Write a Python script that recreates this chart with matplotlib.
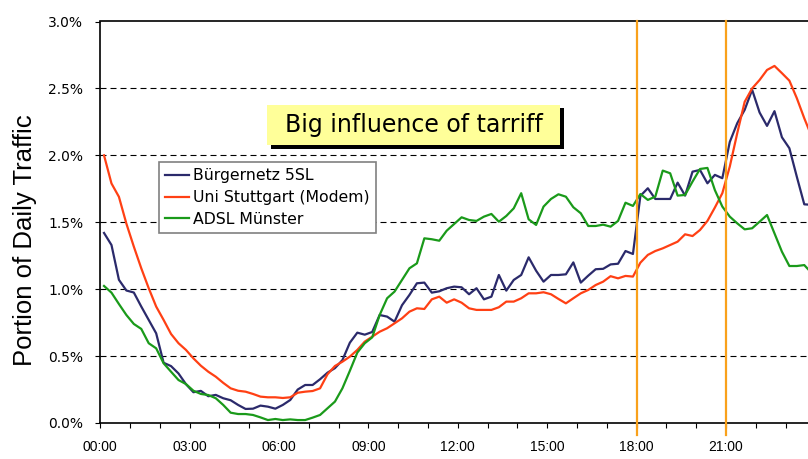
import numpy as np
import matplotlib.pyplot as plt
from matplotlib.patches import Rectangle
from matplotlib.ticker import MultipleLocator, FuncFormatter

# share of daily traffic (%) per 15-minute slot, 00:00 .. 23:45
buergernetz = [
    1.42, 1.33, 1.07, 0.99, 0.975, 0.87, 0.77, 0.67, 0.45, 0.425, 0.37, 0.29,
    0.23, 0.24, 0.20, 0.21, 0.185, 0.17, 0.135, 0.105, 0.107, 0.13, 0.122, 0.107,
    0.135, 0.172, 0.25, 0.284, 0.284, 0.327, 0.376, 0.41, 0.47, 0.60, 0.675, 0.66,
    0.68, 0.807, 0.795, 0.757, 0.88, 0.957, 1.044, 1.049, 0.974, 0.984, 1.007, 1.019,
    1.014, 0.962, 1.007, 0.924, 0.944, 1.106, 0.989, 1.069, 1.106, 1.238, 1.138, 1.056,
    1.106, 1.106, 1.111, 1.20, 1.049, 1.101, 1.149, 1.152, 1.185, 1.19, 1.285, 1.263,
    1.697, 1.754, 1.674, 1.674, 1.674, 1.796, 1.699, 1.878, 1.891, 1.791, 1.854, 1.829,
    2.10, 2.24, 2.34, 2.49, 2.32, 2.22, 2.33, 2.135, 2.053, 1.84, 1.634, 1.63,
]
stuttgart = [
    2.00, 1.79, 1.69, 1.49, 1.318, 1.156, 1.007, 0.87, 0.77, 0.665, 0.596, 0.546,
    0.483, 0.428, 0.383, 0.346, 0.30, 0.259, 0.241, 0.234, 0.217, 0.197, 0.192, 0.192,
    0.187, 0.192, 0.226, 0.234, 0.239, 0.259, 0.364, 0.426, 0.458, 0.496, 0.546, 0.608,
    0.645, 0.682, 0.708, 0.745, 0.782, 0.832, 0.857, 0.852, 0.924, 0.944, 0.899, 0.924,
    0.899, 0.857, 0.845, 0.845, 0.845, 0.865, 0.907, 0.907, 0.932, 0.969, 0.969, 0.977,
    0.962, 0.927, 0.894, 0.932, 0.969, 0.994, 1.031, 1.056, 1.097, 1.081, 1.099, 1.094,
    1.198, 1.256, 1.285, 1.305, 1.33, 1.355, 1.41, 1.397, 1.442, 1.51, 1.61, 1.717,
    1.916, 2.165, 2.40, 2.50, 2.563, 2.638, 2.668, 2.614, 2.558, 2.427, 2.277, 2.14,
]
adsl = [
    1.024, 0.974, 0.889, 0.807, 0.74, 0.703, 0.596, 0.558, 0.446, 0.383, 0.321, 0.291,
    0.241, 0.217, 0.209, 0.185, 0.135, 0.077, 0.067, 0.067, 0.06, 0.042, 0.022, 0.03,
    0.022, 0.027, 0.022, 0.022, 0.04, 0.06, 0.11, 0.16, 0.259, 0.39, 0.526, 0.596,
    0.64, 0.807, 0.932, 0.982, 1.069, 1.156, 1.193, 1.38, 1.373, 1.362, 1.437, 1.487,
    1.537, 1.517, 1.51, 1.542, 1.562, 1.504, 1.547, 1.604, 1.717, 1.522, 1.48, 1.617,
    1.674, 1.709, 1.691, 1.612, 1.567, 1.472, 1.472, 1.482, 1.467, 1.51, 1.646, 1.622,
    1.711, 1.667, 1.691, 1.886, 1.866, 1.699, 1.704, 1.804, 1.898, 1.906, 1.74, 1.617,
    1.542, 1.492, 1.447, 1.455, 1.504, 1.554, 1.417, 1.28, 1.173, 1.173, 1.18, 1.12,
]
labels = ["Bürgernetz 5SL", "Uni Stuttgart (Modem)", "ADSL Münster"]
colors = ["#2b2a6b", "#ff4014", "#1a9a1a"]
tariff_hours = [18, 21]
headline = "Big influence of tarriff"

# centre of each 15-minute slot, in hours
slot_hours = np.arange(len(buergernetz)) * 0.25 + 0.125

W, H = 808, 459
fig = plt.figure(figsize=(W / 100, H / 100), dpi=100)
ax = fig.add_axes([100.3 / W, 36 / H, (W - 100.3) / W, 401.5 / H])

for vals, lab, col in zip([buergernetz, stuttgart, adsl], labels, colors):
    ax.plot(slot_hours, vals, color=col, lw=1.6, label=lab, zorder=3)

for h in tariff_hours:
    ax.axvline(h, ymin=-0.029, ymax=1, color="#f9a11b", lw=1.6,
               clip_on=False, zorder=4)

ax.set_xlim(0, 23.75)
ax.set_ylim(0, 3.0)

# dashed horizontal grid
for y in [0.5, 1.0, 1.5, 2.0, 2.5]:
    ax.axhline(y, color="black", lw=0.8, ls=(0, (5.4, 3.6)), zorder=1)

ax.xaxis.set_major_locator(MultipleLocator(3))
ax.xaxis.set_minor_locator(MultipleLocator(1))
ax.xaxis.set_major_formatter(FuncFormatter(lambda v, p: "%02d:00" % int(v)))
ax.yaxis.set_major_locator(MultipleLocator(0.5))
ax.yaxis.set_major_formatter(FuncFormatter(lambda v, p: "%.1f%%" % v))

ax.tick_params(axis="both", which="both", direction="out", length=3.6,
               width=0.8, color="black")
ax.tick_params(axis="x", pad=8.5, labelsize=10)
ax.tick_params(axis="y", pad=8.6, labelsize=10)
for t in ax.get_xticklabels():
    t.set_fontfamily("Liberation Sans")
for t in ax.get_yticklabels():
    t.set_fontfamily("DejaVu Sans")

for side in ["left", "bottom", "top"]:
    ax.spines[side].set_linewidth(1.2)
ax.spines["right"].set_visible(False)

fig.text(25 / W, 1 - 240 / H, "Portion of Daily Traffic", rotation=90,
         ha="center", va="center", fontsize=18.5, family="Liberation Sans")

leg = ax.legend(loc="upper left", bbox_to_anchor=(159 / W, 1 - 162.5 / H),
                bbox_transform=fig.transFigure, borderaxespad=0,
                fancybox=False, framealpha=1, edgecolor="#808080",
                prop={"family": "DejaVu Sans", "size": 11.3},
                handlelength=1.5, handletextpad=0.3, labelspacing=0.42,
                borderpad=0.38)
leg.get_frame().set_linewidth(1.2)
leg.set_zorder(5)

# headline box with a black drop shadow
x0, y0, x1, y1 = 267, 105, 560, 145
bw, bh = (x1 - x0) / W, (y1 - y0) / H
shadow = Rectangle(((x0 + 3.5) / W, 1 - (y1 + 3.5) / H), bw, bh,
                   transform=fig.transFigure, facecolor="black",
                   edgecolor="none", zorder=6)
box = Rectangle((x0 / W, 1 - y1 / H), bw, bh, transform=fig.transFigure,
                facecolor="#ffff99", edgecolor="none", zorder=7)
fig.patches.extend([shadow, box])
fig.text((x0 + x1) / 2 / W, 1 - (y0 + y1) / 2 / H, headline, ha="center",
         va="center", fontsize=17, family="DejaVu Sans", zorder=8)

fig.savefig("out.png", dpi=100)
